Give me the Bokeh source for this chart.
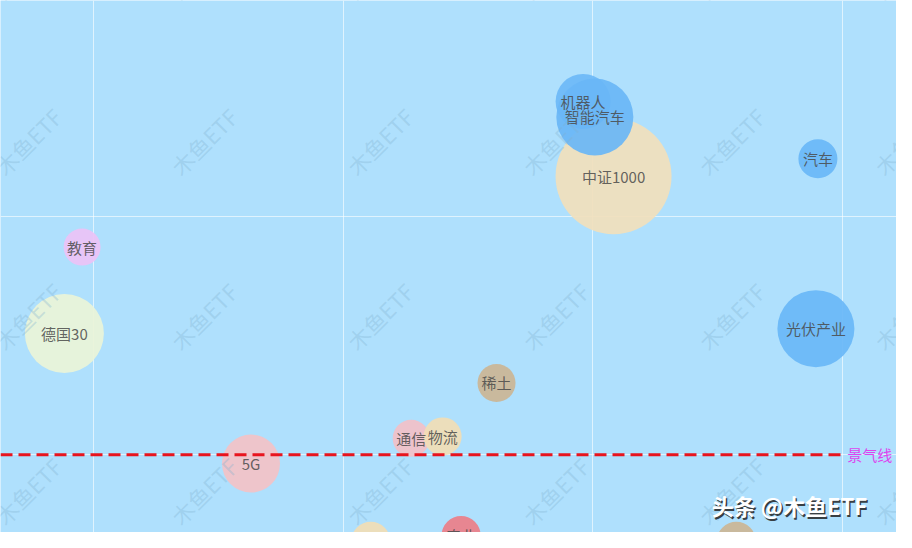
from bokeh.plotting import figure
from bokeh.models import Range1d, FixedTicker, Label, ColumnDataSource
from bokeh.core.properties import value
from bokeh.embed import file_html
from bokeh.resources import INLINE

# ---- data ----
names = ["中证1000", "机器人", "智能汽车", "汽车", "教育", "德国30", "光伏产业",
         "稀土", "通信", "物流", "5G", "食品", "农业", "能源"]
x_vals = [20.83, 19.61, 20.08, 29.02, -0.47, -1.18, 28.94,
          16.14, 12.72, 13.98, 6.30, 11.10, 14.72, 25.75]
y_vals = [58.33, 73.98, 70.73, 61.99, 43.50, 25.41, 26.42,
          15.04, 3.46, 3.86, -1.83, -18.09, -16.87, -18.09]
sizes = [116, 55, 77, 39, 37, 79, 77, 38, 37, 38, 58, 39, 39, 39]
colors = ["#F1E0BC", "#6DB9F7", "#69B6F6", "#69B7F7", "#ECC2F6", "#EAF4D8", "#69B7F7",
          "#CBB595", "#F2C0C8", "#F1DDB5", "#F3C2C7", "#F1DDB5", "#EC7E88", "#CBB595"]
grid_x = [0, 10, 20, 30]
grid_y = [0, 50]
threshold = 0
threshold_end = 30
threshold_label = "景气线"
watermark_text = "木鱼ETF"
credit_text = "头条 @木鱼ETF"

FONT = "Noto Sans CJK SC"
BG = "#AFE0FD"
W, H = 896, 532
SX, SY = W / 912, H / 548

p = figure(width=W, height=H,
           x_range=Range1d(-3.74, 32.17), y_range=Range1d(-16.26, 95.12),
           output_backend="svg", toolbar_location=None, min_border=0,
           x_axis_location=None, y_axis_location=None)
p.background_fill_color = BG
p.border_fill_color = BG
p.outline_line_color = None
p.xgrid.ticker = FixedTicker(ticks=grid_x)
p.ygrid.ticker = FixedTicker(ticks=grid_y)
p.grid.grid_line_color = "white"
p.grid.grid_line_alpha = 0.6
p.grid.grid_line_width = 1

# watermarks (decorative, screen units)
wm_x = [28, 207, 386, 565, 744, 923]
wm_y = [-35, 145, 325, 505]
for yy in wm_y:
    for xx in wm_x:
        p.add_layout(Label(x=xx * SX, y=H - yy * SY, x_units="screen", y_units="screen",
                           text=watermark_text, angle=45, angle_units="deg",
                           text_align="center", text_baseline="middle",
                           text_font=FONT, text_font_size="22px",
                           text_color="#7FB0D0", text_alpha=0.33))

src = ColumnDataSource(dict(x=x_vals, y=y_vals, size=sizes, color=colors, name=names))

p.scatter(x="x", y="y", size="size", fill_color="color", fill_alpha=0.92,
          line_color=None, source=src)

# threshold line
p.line(x=[p.x_range.start, threshold_end], y=[threshold, threshold],
       line_color="#E8141E", line_width=3, line_dash="12 6")

p.text(x="x", y="y", text="name", source=src, text_align="center",
       text_baseline="middle", text_font=value(FONT), text_font_size="15px",
       text_color="#4A4A4A", text_alpha=0.85)

p.add_layout(Label(x=threshold_end, y=threshold, x_offset=5, text=threshold_label,
                   text_align="left", text_baseline="middle", text_font=FONT,
                   text_font_size="15px", text_color="#DD44EE"))

# credit text with shadow
cx, cy = 724 * SX, H - 520 * SY
p.add_layout(Label(x=cx + 1.5, y=cy - 1.5, x_units="screen", y_units="screen", text=credit_text,
                   text_align="left", text_baseline="middle", text_font=FONT,
                   text_font_size="22px", text_font_style="bold",
                   text_color="#222222", text_alpha=0.85))
p.add_layout(Label(x=cx, y=cy, x_units="screen", y_units="screen", text=credit_text,
                   text_align="left", text_baseline="middle", text_font=FONT,
                   text_font_size="22px", text_font_style="bold",
                   text_color="white"))

open("out.html", "w").write(file_html(p, INLINE))
